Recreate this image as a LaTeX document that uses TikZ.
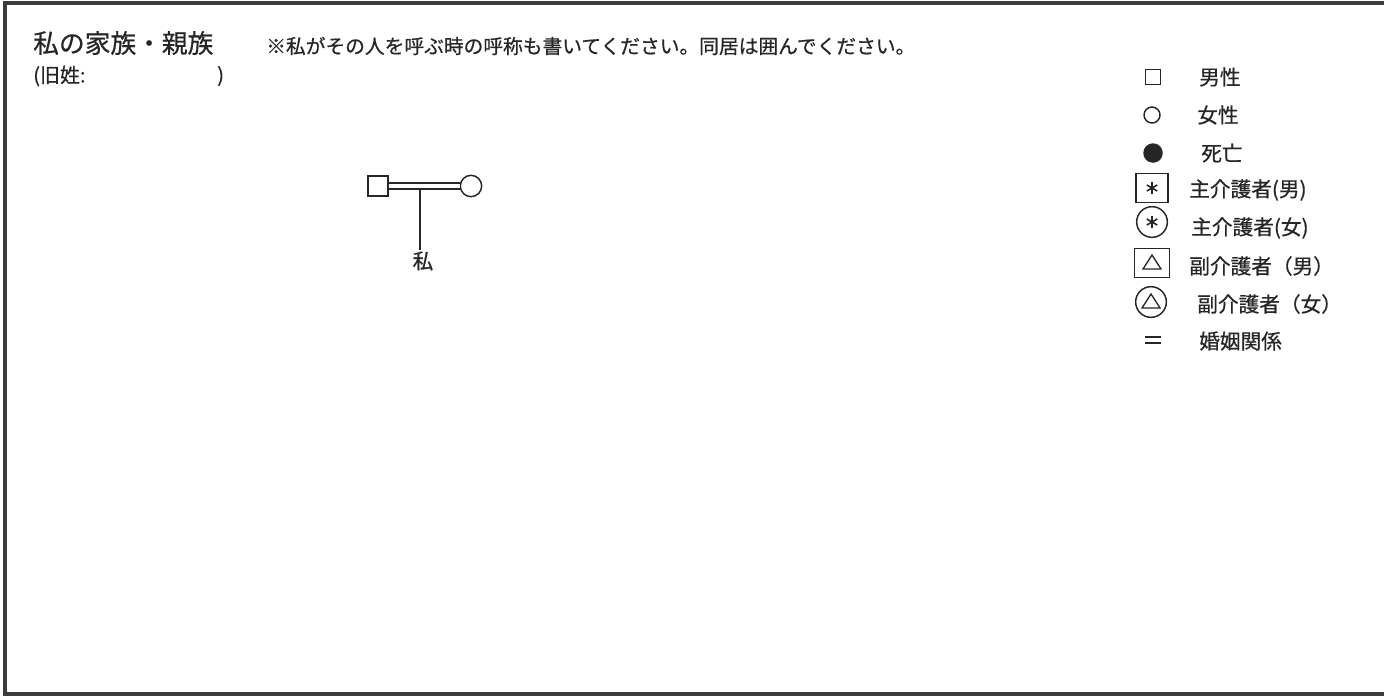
\documentclass[tikz,border=0pt]{standalone}
\usepackage{fontspec}
\setmainfont[FakeBold=0.6]{Noto Sans CJK JP}
\definecolor{ink}{HTML}{262626}
\begin{document}
\begin{tikzpicture}[x=0.75pt,y=-0.75pt,
  frame/.style={line width=3pt,color=ink!90},
  ttl/.style={font=\fontsize{19.3pt}{21pt}\selectfont,anchor=west,inner sep=0,text=ink},
  sub/.style={font=\fontsize{15pt}{16pt}\selectfont,anchor=west,inner sep=0,text=ink},
  note/.style={font=\fontsize{14.8pt}{16pt}\selectfont,anchor=west,inner sep=0,text=ink},
  leg/.style={font=\fontsize{15.5pt}{17pt}\selectfont,anchor=west,inner sep=0,text=ink},
  sym/.style={draw=ink,line width=1.1pt,inner sep=0},
  spoke/.style={draw=ink,line width=1.2pt},
  tree/.style={draw=ink,line width=1.1pt}]
\useasboundingbox (0,0) rectangle (1384,697);
% frame
\draw[frame] (1384,3) -- (5,3) -- (5,694) -- (1384,694);
% header
\node[ttl] (title) at (33,43) {私の家族・親族};
\node[sub] (old) at (33,76) {(旧姓:};
\node[sub] (oldend) at (217,76) {)};
\node[note] (notice) at (266,46) {※私がその人を呼ぶ時の呼称も書いてください。同居は囲んでください。};
% tree
\node[sym,minimum size=15pt] (male) at (378,186) {};
\node[sym,circle,minimum size=16pt] (female) at (471,186) {};
\draw[tree,double=white,double distance=3.6pt,line width=1.3pt] (male) -- (female);
\coordinate (join) at (420,189);
\node[font=\fontsize{15.5pt}{16pt}\selectfont,inner sep=1pt,text=ink] (me) at (423,261) {私};
\draw[tree] (join) -- (join |- me.north);
% legend symbols
\node[sym,minimum size=11.5pt] (lm) at (1153,77) {};
\node[sym,circle,minimum size=12pt] (lf) at (1152,115) {};
\node[sym,circle,fill=ink,minimum size=13.5pt] (ld) at (1153,153) {};
\node[sym,minimum width=24pt,minimum height=22pt] (lpm) at (1152,188) {};
\foreach \a in {90,30,150} \draw[spoke] (lpm.center) ++(\a:6) -- ++(\a+180:12);
\node[sym,circle,minimum size=23pt] (lpf) at (1152,222) {};
\foreach \a in {90,30,150} \draw[spoke] (lpf.center) ++(\a:6) -- ++(\a+180:12);
\node[sym,minimum width=26pt,minimum height=22pt] (lsm) at (1152,263) {};
\draw[tree,line width=1pt] (1152,255) -- (1161,269) -- (1143,269) -- cycle;
\node[sym,circle,minimum size=23pt] (lsf) at (1151,302) {};
\draw[tree,line width=1pt] (1151,294) -- (1160,308) -- (1142,308) -- cycle;
\draw[tree,line width=1.3pt] (1145,337) -- (1161,337);
\draw[tree,line width=1.3pt] (1145,343) -- (1161,343);
% legend texts
\node[leg] (t1) at (1199,77) {男性};
\node[leg] (t2) at (1197,115) {女性};
\node[leg] (t3) at (1201,153) {死亡};
\node[leg] (t4) at (1189,190) {主介護者(男)};
\node[leg] (t5) at (1191,228) {主介護者(女)};
\node[leg] (t6) at (1189,266) {副介護者（男）};
\node[leg] (t7) at (1197,304) {副介護者（女）};
\node[leg] (t8) at (1199,341) {婚姻関係};
\end{tikzpicture}
\end{document}
